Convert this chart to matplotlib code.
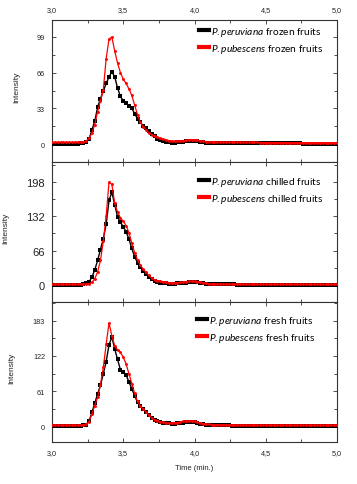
import numpy as np
import matplotlib
matplotlib.use('Agg')
import matplotlib.pyplot as plt
from matplotlib.ticker import MultipleLocator, FixedLocator, FuncFormatter
from matplotlib.lines import Line2D

plt.rcParams['font.family'] = ['Liberation Sans', 'DejaVu Sans']
plt.rcParams['mathtext.fontset'] = 'custom'
plt.rcParams['mathtext.it'] = 'Lato:italic'
plt.rcParams['mathtext.rm'] = 'Lato'

# ---------------- data ----------------
time = np.round(np.linspace(3.0, 5.0, 101), 2)

conditions = ["frozen", "chilled", "fresh"]
species = ["P.peruviana", "P.pubescens"]

peruviana_frozen = [
    0.4, 0.4, 0.4, 0.4, 0.4, 0.4, 0.4, 0.4, 0.5, 0.5, 0.6,
    0.9, 2, 4.5, 13, 21, 34, 42, 49, 56, 62,
    67, 62, 52, 44, 40, 37.5, 35.5, 33, 28, 23.5,
    20, 17, 14.5, 12, 9, 7, 5, 3.3, 2.5, 1.8,
    1.5,
    1.4, 1.4, 1.5, 1.7, 2.0, 2.4, 2.8, 3.0, 3.0, 2.7, 2.2, 1.7,
    1.4, 1.3, 1.2, 1.2, 1.1, 1.1, 1.0, 1.0, 1.0, 0.9,
    0.9, 0.9, 0.8, 0.8, 0.8, 0.8, 0.8, 0.7, 0.7, 0.7,
    0.7, 0.7, 0.7, 0.6, 0.6, 0.6, 0.6, 0.6, 0.6, 0.6,
    0.6, 0.6, 0.6, 0.6, 0.5, 0.5, 0.5, 0.5, 0.5, 0.5,
    0.5, 0.5, 0.5, 0.5, 0.5, 0.5, 0.5,
]
pubescens_frozen = [
    1.5, 1.5, 1.6, 1.5, 1.5, 1.6, 1.5, 1.5, 1.6, 1.7, 1.8,
    2.0, 2.8, 5.5, 10, 18, 30, 40, 50, 79, 97,
    99, 86, 75, 66, 60, 56, 51, 45, 36, 27,
    20, 16, 13, 10.5, 8.5, 7.5, 6.3, 5.5, 4.5, 3.8,
    3.2,
    2.8, 2.6, 2.6, 2.8, 3.1, 3.5, 3.8, 4.0, 3.9, 3.5, 3.0, 2.5,
    2.2, 2.0, 1.9, 1.9, 1.8, 1.8, 1.7, 1.7, 1.7, 1.6,
    1.6, 1.6, 1.5, 1.5, 1.5, 1.5, 1.5, 1.5, 1.5, 1.4,
    1.4, 1.4, 1.4, 1.4, 1.4, 1.4, 1.4, 1.4, 1.3, 1.3,
    1.3, 1.3, 1.3, 1.3, 1.3, 1.3, 1.3, 1.3, 1.3, 1.3,
    1.3, 1.3, 1.3, 1.3, 1.3, 1.3, 1.3,
]
peruviana_chilled = [
    0.5, 0.5, 0.5, 0.5, 0.5, 0.5, 0.5, 0.5, 0.6, 0.7, 0.9,
    1.5, 3, 6, 15, 29, 47, 68, 89, 116, 162,
    178, 154, 131, 120, 112, 102, 88, 70, 54, 43,
    35, 27.5, 21.5, 15, 11, 8, 6, 4.5, 3.5, 3,
    2.5,
    2.5, 2.5, 3, 3.5, 4, 4.5, 5, 5.5, 5.5, 5, 4, 3,
    2.5, 2, 1.8, 1.6, 1.5, 1.4, 1.3, 1.2, 1.1, 1.0,
    1.0, 0.9, 0.9, 0.9, 0.8, 0.8, 0.8, 0.8, 0.8, 0.7,
    0.7, 0.7, 0.7, 0.7, 0.7, 0.7, 0.7, 0.6, 0.6, 0.6,
    0.6, 0.6, 0.6, 0.6, 0.6, 0.6, 0.6, 0.6, 0.6, 0.6,
    0.6, 0.6, 0.6, 0.6, 0.6, 0.6, 0.6,
]
pubescens_chilled = [
    1.5, 1.5, 1.5, 1.5, 1.5, 1.5, 1.5, 1.5, 1.5, 1.5, 1.5,
    1.5, 2, 2.5, 5, 12, 25, 47, 84, 132, 197,
    193, 157, 140, 129, 122, 114, 100, 80, 62, 48,
    38, 30.5, 24, 18.5, 13, 10, 8.5, 7.5, 6.5, 5.5,
    4.5,
    4, 4, 4.5, 5, 5.5, 6.5, 7, 7, 7, 6.5, 5.5, 4,
    3, 2.5, 2.2, 2, 1.9, 1.8, 1.7, 1.6, 1.6, 1.5,
    1.5, 1.5, 1.5, 1.5, 1.4, 1.4, 1.4, 1.4, 1.4, 1.4,
    1.3, 1.3, 1.3, 1.3, 1.3, 1.3, 1.3, 1.3, 1.3, 1.3,
    1.2, 1.2, 1.2, 1.2, 1.2, 1.2, 1.2, 1.2, 1.2, 1.2,
    1.2, 1.2, 1.2, 1.2, 1.2, 1.2, 1.2,
]
peruviana_fresh = [
    0.8, 0.8, 0.8, 0.8, 0.8, 0.8, 0.8, 0.8, 0.9, 0.9, 1.0,
    1.5, 3, 9, 24, 40, 56, 71, 91, 112, 141,
    155, 134, 116, 98, 94, 89, 77, 65, 53, 41.5,
    35.5, 30.5, 25, 19, 14.5, 11, 9, 7.5, 6.5, 5.5,
    5,
    4.5, 4.5, 5, 6, 6.5, 7, 7.5, 7.5, 7, 6, 4.5, 3.5,
    3, 2.7, 2.5, 2.3, 2.2, 2.0, 1.8, 1.6, 1.4, 1.2,
    1.1, 1.0, 1.0, 1.0, 0.9, 0.9, 0.9, 0.9, 0.9, 0.8,
    0.8, 0.8, 0.8, 0.8, 0.8, 0.8, 0.8, 0.8, 0.7, 0.7,
    0.7, 0.7, 0.7, 0.7, 0.7, 0.7, 0.7, 0.7, 0.7, 0.7,
    0.7, 0.7, 0.7, 0.7, 0.7, 0.7, 0.7,
]
pubescens_fresh = [
    2, 2, 2, 2, 2, 2, 2, 2, 2, 2.1, 2.2,
    2.5, 4, 8, 21, 36, 50, 72, 102, 142, 179,
    157, 140, 132, 128, 120, 108, 91, 74, 57, 43,
    35, 30, 25, 19.5, 15, 11.5, 9.5, 8, 7, 6,
    5.5,
    5.5, 6, 6.5, 7.5, 8.5, 9, 9.5, 9.5, 9, 7.5, 6, 4.5,
    3.8, 3.3, 3, 2.9, 2.8, 2.7, 2.6, 2.5, 2.5, 2.4,
    2.3, 2.3, 2.3, 2.3, 2.2, 2.2, 2.2, 2.2, 2.2, 2.2,
    2.1, 2.1, 2.1, 2.1, 2.1, 2.1, 2.1, 2.1, 2.1, 2.1,
    2.0, 2.0, 2.0, 2.0, 2.0, 2.0, 2.0, 2.0, 2.0, 2.0,
    2.0, 2.0, 2.0, 2.0, 2.0, 2.0, 2.0,
]

yticks_frozen = [0, 33, 66, 99]
yticks_chilled = [0, 66, 132, 198]
yticks_fresh = [0, 61, 122, 183]
xticks = [3.0, 3.5, 4.0, 4.5, 5.0]

# ---------------- layout / style ----------------
W, H = 357, 485
fig = plt.figure(figsize=(W / 100, H / 100), dpi=100)

left_px, right_px = 52, 337
panel_px = [(21, 163), (163, 303), (303, 443)]
ylims = [(-16.6, 114.7), (-32.6, 235.8), (-27.2, 215.4)]
ytick_sets = [yticks_frozen, yticks_chilled, yticks_fresh]
ytick_fs = [5.2, 8.0, 5.2]
ylabel_x = [-0.112, -0.151, -0.13]
legend_top_px = [26, 176, 315]
legend_left_px = [199, 199, 197]

series = [
    (peruviana_frozen, pubescens_frozen),
    (peruviana_chilled, pubescens_chilled),
    (peruviana_fresh, pubescens_fresh),
]

spine_col = '#333333'
comma = FuncFormatter(lambda v, p: f"{v:.1f}".replace('.', ','))

for i, ((blk, red), (top, bot)) in enumerate(zip(series, panel_px)):
    ax = fig.add_axes([left_px / W, 1 - bot / H, (right_px - left_px) / W, (bot - top) / H])
    ax.plot(time, blk, color='black', lw=1.0, marker='s', ms=2.6, mew=0, zorder=3)
    ax.plot(time, red, color='red', lw=0.9, marker='o', ms=2.1, mew=0, zorder=4)
    ax.set_xlim(3.0, 5.0)
    ax.set_ylim(*ylims[i])
    ax.xaxis.set_major_locator(FixedLocator(xticks))
    ax.xaxis.set_minor_locator(MultipleLocator(0.25))
    ax.xaxis.set_major_formatter(comma)
    yt = ytick_sets[i]
    ax.yaxis.set_major_locator(FixedLocator(yt))
    ax.yaxis.set_minor_locator(MultipleLocator(yt[1] / 2))
    for s in ax.spines.values():
        s.set_color(spine_col)
        s.set_linewidth(0.8)
    ax.tick_params(which='both', direction='in', top=True, right=True,
                   width=0.6, color=spine_col)
    ax.tick_params(which='major', length=3)
    ax.tick_params(which='minor', length=2)
    ax.tick_params(axis='x', labelsize=5.2, pad=5, labelcolor='#222222',
                   labeltop=(i == 0), labelbottom=(i == 2))
    ax.tick_params(axis='y', labelsize=ytick_fs[i], pad=5, labelcolor='#222222')
    ax.set_ylabel('Intensity', fontsize=6, color='#222222')
    ax.yaxis.set_label_coords(ylabel_x[i], 0.53)
    if i == 2:
        ax.set_xlabel('Time (min.)', fontsize=5.5, color='#222222', labelpad=6)

    cond = conditions[i]
    handles = [Line2D([], [], color='black', lw=3),
               Line2D([], [], color='red', lw=3)]
    labels = [r"$\mathit{" + sp + "}$ " + cond + " fruits" for sp in species]
    ax.legend(handles, labels, loc='upper left',
              bbox_to_anchor=((legend_left_px[i] - left_px) / (right_px - left_px),
                              (bot - legend_top_px[i]) / (bot - top)),
              frameon=False, borderpad=0, borderaxespad=0, handlelength=1.0,
              handletextpad=0.2, labelspacing=0.35,
              prop={'family': 'Lato', 'size': 7.3})

fig.savefig('out.png', dpi=100)
